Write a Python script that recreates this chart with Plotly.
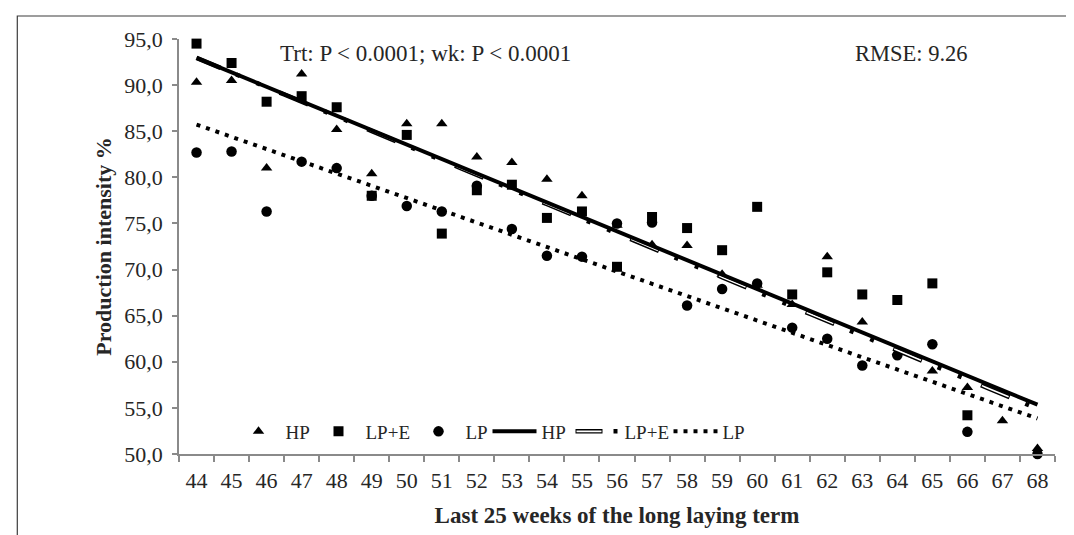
import plotly.graph_objects as go

# ---- data ----
weeks = [44, 45, 46, 47, 48, 49, 50, 51, 52, 53, 54, 55, 56,
         57, 58, 59, 60, 61, 62, 63, 64, 65, 66, 67, 68]

hp_obs = [90.3, 90.5, 81.0, 91.2, 85.2, 80.4, 85.8, 85.8, 82.2, 81.6, 79.8, 78.0, 74.8,
          72.7, 72.6, 69.5, 68.3, 66.2, 71.4, 64.3, 61.0, 59.0, 57.2, 53.6, 50.6]

lpe_obs = [94.5, 92.4, 88.2, 88.8, 87.6, 78.0, 84.6, 73.9, 78.6, 79.2, 75.6, 76.3, 70.3,
           75.7, 74.5, 72.1, 76.8, 67.3, 69.7, 67.3, 66.7, 68.5, 54.2, None, None]

lp_obs = [82.7, 82.8, 76.3, 81.7, 81.0, 78.0, 76.9, 76.3, 79.1, 74.4, 71.5, 71.4, 75.0,
          75.1, 66.1, 67.9, 68.5, 63.7, 62.5, 59.6, 60.7, 61.9, 52.4, None, 50.0]

# linear trend lines (value at first and last week)
fit_weeks = [44, 68]
hp_fit = [92.95, 55.35]
lpe_fit = [92.95, 54.9]
lp_fit = [85.72, 53.85]

y_ticks = [50, 55, 60, 65, 70, 75, 80, 85, 90, 95]

FONT = "Liberation Serif, Times New Roman, serif"
TXT = "#262626"
AX = "#8a8a8a"
LEG_FS = 19

fig = go.Figure()

# observed points
fig.add_trace(go.Scatter(x=weeks, y=hp_obs, mode="markers", name="HP",
                         marker=dict(symbol="triangle-up", size=10, color="black"),
                         cliponaxis=False, legendrank=1, legendwidth=21))
fig.add_trace(go.Scatter(x=weeks, y=lpe_obs, mode="markers", name="LP+E",
                         marker=dict(symbol="square", size=10, color="black"),
                         cliponaxis=False, legendrank=2, legendwidth=41))
fig.add_trace(go.Scatter(x=weeks, y=lp_obs, mode="markers", name="LP",
                         marker=dict(symbol="circle", size=10.5, color="black"),
                         cliponaxis=False, legendrank=3, legendwidth=17))

# LP+E trend: double line (black outline + white core), drawn beneath HP
fig.add_trace(go.Scatter(x=fit_weeks, y=lpe_fit, mode="lines", name="LP+E",
                         line=dict(color="black", width=4.5,
                                   dash="26px,17px,4px,18px,4px,21px,5px,0px"),
                         cliponaxis=False, showlegend=False))
fig.add_trace(go.Scatter(x=fit_weeks, y=lpe_fit, mode="lines", name="LP+E core",
                         line=dict(color="white", width=1.6,
                                   dash="25px,66px,4px,0px"),
                         cliponaxis=False, showlegend=False))
# HP trend
fig.add_trace(go.Scatter(x=fit_weeks, y=hp_fit, mode="lines", name="HP",
                         line=dict(color="black", width=4),
                         cliponaxis=False, legendrank=4, legendwidth=24))
# legend entry for LP+E trend (no data of its own)
fig.add_trace(go.Scatter(x=[None], y=[None], mode="lines", name="LP+E",
                         line=dict(color="black", width=4.5, dash="27px,11px,4px,60px"),
                         legendrank=5, legendwidth=39))
# LP trend
fig.add_trace(go.Scatter(x=fit_weeks, y=lp_fit, mode="lines", name="LP",
                         line=dict(color="black", width=4, dash="4px,6px"),
                         cliponaxis=False, legendrank=6, legendwidth=26))
# white core of the LP+E legend symbol
fig.add_trace(go.Scatter(x=[None], y=[None], mode="lines", name=" ",
                         line=dict(color="white", width=1.6, dash="0px,1px,25px,76px"),
                         legend="legend2", legendwidth=1))

L, R, T, B = 171, 27, 31, 89
W, H = 1074, 535
pw, ph = W - L - R, H - T - B

def px_x(px):
    return (px - L) / pw

def px_y(py):
    return (H - B - py) / ph

leg_left = 223.5
leg_x = px_x(leg_left)
leg_y = px_y(423.5)
leg2_x = px_x(leg_left + (59 + 21) + (59 + 41) + (59 + 17) + (59 + 24))

fig.update_layout(
    width=W, height=H,
    margin=dict(l=L, r=R, t=T, b=B, autoexpand=False),
    paper_bgcolor="white", plot_bgcolor="white",
    separators=",.",
    font=dict(family=FONT, size=22, color=TXT),
    showlegend=True,
    legend=dict(orientation="h", x=leg_x, xanchor="left", y=leg_y, yanchor="middle",
                bgcolor="rgba(0,0,0,0)", borderwidth=0, itemwidth=44,
                font=dict(family=FONT, size=LEG_FS, color=TXT), traceorder="normal",
                itemclick=False, itemdoubleclick=False),
    legend2=dict(orientation="h", x=leg2_x, xanchor="left", y=leg_y, yanchor="middle",
                 bgcolor="rgba(0,0,0,0)", borderwidth=0, itemwidth=44,
                 font=dict(family=FONT, size=LEG_FS, color="rgba(0,0,0,0)"),
                 itemclick=False, itemdoubleclick=False),
    xaxis=dict(type="category", range=[-0.5, 24.5], tickson="boundaries",
               showline=True, linecolor=AX, linewidth=1.5, mirror=False,
               ticks="outside", ticklen=6, tickcolor=AX, tickwidth=1.5,
               showgrid=False, zeroline=False, ticklabelstandoff=6,
               tickfont=dict(family=FONT, size=22, color=TXT),
               title=dict(text="Last 25 weeks of the long laying term", standoff=15,
                          font=dict(family=FONT, size=23, color=TXT, weight="bold"))),
    yaxis=dict(range=[50, 95], tickvals=y_ticks, tickformat=".1f",
               showline=True, linecolor=AX, linewidth=1.5,
               ticks="outside", ticklen=5, tickcolor=AX, tickwidth=1.5,
               showgrid=False, zeroline=False, ticklabelstandoff=5,
               tickfont=dict(family=FONT, size=22, color=TXT),
               title=dict(text="Production intensity %", standoff=7,
                          font=dict(family=FONT, size=22, color=TXT, weight="bold"))),
    annotations=[
        dict(text="Trt: P < 0.0001; wk: P < 0.0001", xref="paper", yref="paper",
             x=px_x(270), y=px_y(45), xanchor="left", yanchor="middle",
             showarrow=False, font=dict(family=FONT, size=23, color=TXT)),
        dict(text="RMSE: 9.26", xref="paper", yref="paper",
             x=px_x(845), y=px_y(45), xanchor="left", yanchor="middle",
             showarrow=False, font=dict(family=FONT, size=22.5, color=TXT)),
    ],
    shapes=[dict(type="rect", xref="paper", yref="paper", layer="below",
                 x0=px_x(9.3), x1=px_x(1085), y0=px_y(545), y1=px_y(8),
                 line=dict(color="#3c3c3c", width=1.2), fillcolor="rgba(0,0,0,0)")],
)

fig.write_html("out.html")
